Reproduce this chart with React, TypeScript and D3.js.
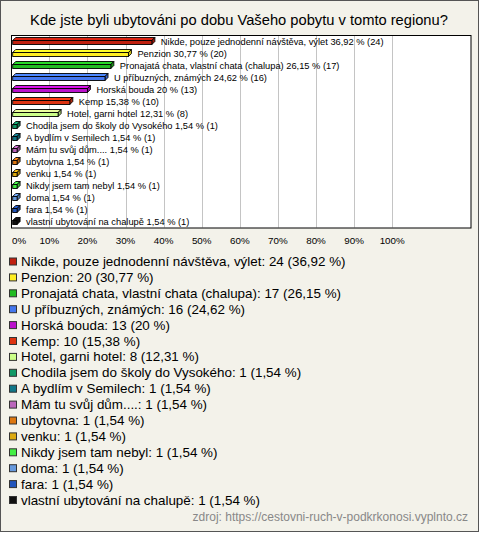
import React from "react";
import * as d3 from "d3";

const title = "Kde jste byli ubytováni po dobu Vašeho pobytu v tomto regionu?";
const categories = [
  "Nikde, pouze jednodenní návštěva, výlet",
  "Penzion",
  "Pronajatá chata, vlastní chata (chalupa)",
  "U příbuzných, známých",
  "Horská bouda",
  "Kemp",
  "Hotel, garni hotel",
  "Chodila jsem do školy do Vysokého",
  "A bydlím v Semilech",
  "Mám tu svůj dům....",
  "ubytovna",
  "venku",
  "Nikdy jsem tam nebyl",
  "doma",
  "fara",
  "vlastní ubytování na chalupě",
];
const counts = [24, 20, 17, 16, 13, 10, 8, 1, 1, 1, 1, 1, 1, 1, 1, 1];
const percents = [36.92, 30.77, 26.15, 24.62, 20, 15.38, 12.31, 1.54, 1.54, 1.54, 1.54, 1.54, 1.54, 1.54, 1.54, 1.54];
const colors = [
  "#c0200f", "#ffee22", "#22bb22", "#4477ee", "#bb11cc", "#dd3311", "#ccff88", "#119966",
  "#117788", "#bb66bb", "#dd7711", "#ddaa11", "#44ee44", "#6699dd", "#2255bb", "#111111",
];
const ticks = [0, 10, 20, 30, 40, 50, 60, 70, 80, 90, 100];
const source = "zdroj: https://cestovni-ruch-v-podkrkonosi.vyplnto.cz";

const W = 480;
const H = 533;
const FONT = "Arial, 'Liberation Sans', sans-serif";

const fmt = (v: number) => String(v).replace(".", ",");

export default function App() {
  const x = d3.scaleLinear().domain([0, 100]).range([11.2, 392.2]);
  const y = d3.scaleBand<string>().domain(categories).range([35, 227]);
  const plot = { x0: 11, y0: 35, x1: 470.5, y1: 227.5 };
  const d = 3;

  const legendY = (i: number) => 261.5 + i * 15.9;

  return (
    <svg width={W} height={H} style={{ position: "absolute", left: 0, top: 0 }} fontFamily={FONT}>
      <rect x={0.5} y={0.5} width={478} height={531} fill="#f3f2ea" stroke="#555" strokeWidth={1} />
      <text x={239} y={25} textAnchor="middle" fontSize={14.7} fill="#000">{title}</text>

      <rect x={plot.x0 + 0.5} y={plot.y0 + 0.5} width={plot.x1 - plot.x0} height={plot.y1 - plot.y0} fill="#fff" stroke="none" />
      {ticks.filter((t) => t > 0).map((t) => (
        <line key={t} x1={Math.round(x(t)) + 0.5} x2={Math.round(x(t)) + 0.5} y1={plot.y0} y2={plot.y1} stroke="#c4c4c4" strokeWidth={1} />
      ))}

      {categories.map((c, i) => {
        const cy = (y(c) as number) + y.bandwidth() / 2 + 0.5;
        const x0 = x(0) + 1.5;
        const x1 = x(percents[i]);
        const top = cy - 1;
        const bot = cy + 3;
        const col = colors[i];
        const light = d3.color(col)!.brighter(0.4).formatHex();
        const dark = d3.color(col)!.darker(0.6).formatHex();
        return (
          <g key={c}>
            <path d={`M${x0},${top} L${x0 + d},${top - d} L${x1 + d},${top - d} L${x1},${top} Z`} fill={light} stroke="#000" strokeWidth={0.9} strokeLinejoin="round" />
            <path d={`M${x1},${top} L${x1 + d},${top - d} L${x1 + d},${bot - d} L${x1},${bot} Z`} fill={dark} stroke="#000" strokeWidth={0.9} strokeLinejoin="round" />
            <rect x={x0} y={top} width={x1 - x0} height={bot - top} fill={col} stroke="#000" strokeWidth={0.9} />
            <text x={x1 + d + 6} y={cy + 3} fontSize={9.3} fill="#000">
              {`${c} ${fmt(percents[i])} % (${counts[i]})`}
            </text>
          </g>
        );
      })}

      <rect x={plot.x0 + 0.5} y={plot.y0 + 0.5} width={plot.x1 - plot.x0} height={plot.y1 - plot.y0} fill="none" stroke="#000" strokeWidth={1} />

      {ticks.map((t) => (
        <text key={t} x={t === 0 ? 12 : x(t)} y={244} textAnchor={t === 0 ? "start" : "middle"} fontSize={9.8} fill="#000">
          {`${t}%`}
        </text>
      ))}

      {categories.map((c, i) => (
        <g key={"l" + c}>
          <rect x={9.5} y={legendY(i) - 3.5} width={7} height={7} fill={colors[i]} stroke="#333" strokeWidth={1} />
          <text x={21} y={legendY(i) + 4.5} fontSize={13.4} fill="#000">
            {`${c}: ${counts[i]} (${fmt(percents[i])} %)`}
          </text>
        </g>
      ))}

      <text x={468} y={521} textAnchor="end" fontSize={12} fill="#888">{source}</text>
    </svg>
  );
}
